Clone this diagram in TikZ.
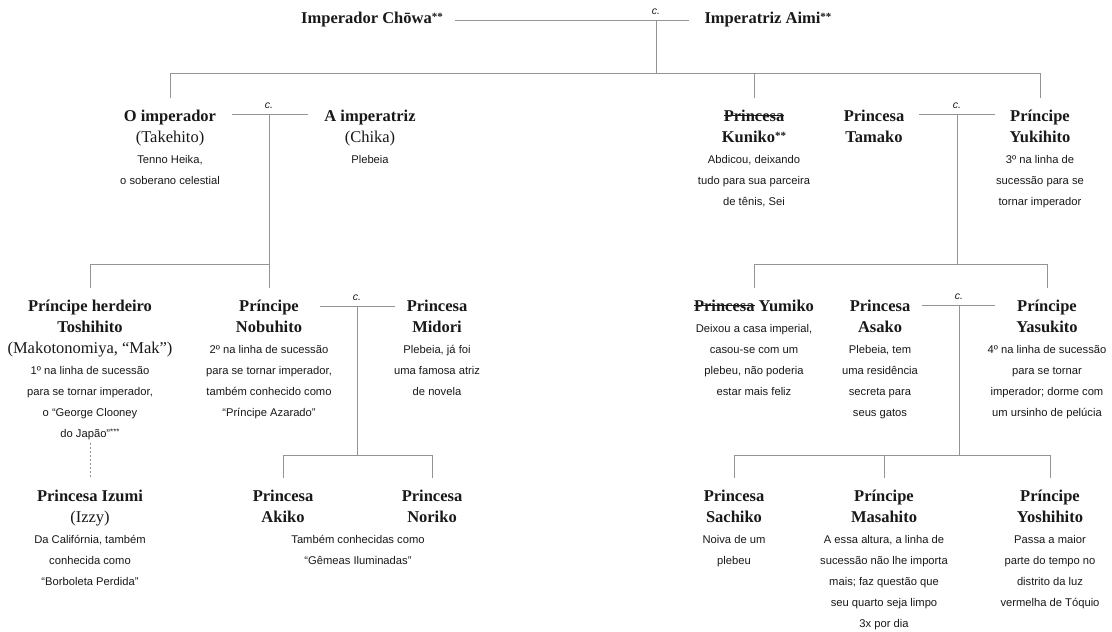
\documentclass[tikz,border=0pt]{standalone}
\usepackage{fontspec}
\setmainfont{Liberation Serif}
\setsansfont{Liberation Sans}
\newsavebox\strkbox
\newcommand\strk[1]{\sbox\strkbox{#1}\rlap{\rule[0.3em]{\wd\strkbox}{0.9pt}}\usebox\strkbox}
\newcommand\strt{\rule{0pt}{23pt}}
\newcommand\dscf{\sffamily\mdseries\fontsize{11.2}{21}\selectfont}
\newcommand\surf{\mdseries\fontsize{16.5}{21}\selectfont}
\newcommand\stars[1]{{\fontsize{11}{21}\selectfont\raisebox{3pt}{#1}}}
\newcommand\dstars[1]{{\fontsize{8}{21}\selectfont\raisebox{3pt}{#1}}}
\tikzset{
  person/.style={text width=230pt, align=flush center, inner sep=0pt, anchor=north,
    font=\fontsize{16.5}{21}\selectfont\bfseries, text=black!90},
  conn/.style={draw=black!42, line width=1pt},
  cee/.style={font=\sffamily\itshape\fontsize{10.5}{11}\selectfont, inner sep=0pt, anchor=base, text=black!90}
}
\begin{document}
\begin{tikzpicture}[x=1pt,y=-1pt]
\useasboundingbox[fill=white] (0,0) rectangle (1112,632);

% ---- row 1
\node[person] (chowa) at (372,0) {\strt Imperador Chōwa\stars{**}};
\node[person] (aimi) at (768,0) {\strt Imperatriz Aimi\stars{**}};
\coordinate (m1a) at (455,20);
\coordinate (m1) at (656,20);
\coordinate (m1b) at (689,20);
\coordinate (b1) at (656,73);
\draw[conn] (m1a) -- (m1b);
\draw[conn] (m1) -- (b1);
\node[cee] at ([yshift=6pt]m1) {c.};

% ---- row 2 (baseline 121)
\node[person] (imperador) at (170,98) {\strt O imperador\\ \surf (Takehito)\\ \dscf Tenno Heika,\\ o soberano celestial};
\node[person] (imperatriz) at (370,98) {\strt A imperatriz\\ \surf (Chika)\\ \dscf Plebeia};
\node[person] (kuniko) at (754,98) {\strt \strk{Princesa}\\ Kuniko\stars{**}\\ \dscf Abdicou, deixando\\ tudo para sua parceira\\ de tênis, Sei};
\node[person] (tamako) at (874,98) {\strt Princesa\\ Tamako};
\node[person] (yukihito) at (1040,98) {\strt Príncipe\\ Yukihito\\ \dscf 3º na linha de\\ sucessão para se\\ tornar imperador};

\draw[conn] (imperador.north) |- (b1);
\draw[conn] (yukihito.north) |- (b1);
\draw[conn] (kuniko.north) -- (kuniko.north |- b1);

\coordinate (m2La) at (232,114);
\coordinate (m2L) at (269,114);
\coordinate (m2Lb) at (308,114);
\coordinate (b2L) at (269,264);
\draw[conn] (m2La) -- (m2Lb);
\node[cee] at ([yshift=6pt]m2L) {c.};

\coordinate (m2Ra) at (919,114);
\coordinate (m2R) at (957,114);
\coordinate (m2Rb) at (995,114);
\coordinate (b2R) at (957,264);
\draw[conn] (m2Ra) -- (m2Rb);
\draw[conn] (m2R) -- (b2R);
\node[cee] at ([yshift=6pt]m2R) {c.};

% ---- row 3 (baseline 311)
\node[person] (toshihito) at (90,288) {\strt Príncipe herdeiro\\ Toshihito\\ \surf (Makotonomiya, “Mak”)\\ \dscf 1º na linha de sucessão\\ para se tornar imperador,\\ o “George Clooney\\ do Japão”\dstars{***}};
\node[person] (nobuhito) at (269,288) {\strt Príncipe\\ Nobuhito\\ \dscf 2º na linha de sucessão\\ para se tornar imperador,\\ também conhecido como\\ “Príncipe Azarado”};
\node[person] (midori) at (437,288) {\strt Princesa\\ Midori\\ \dscf Plebeia, já foi\\ uma famosa atriz\\ de novela};
\node[person] (yumiko) at (754,288) {\strt \strk{Princesa} Yumiko\\ \dscf Deixou a casa imperial,\\ casou-se com um\\ plebeu, não poderia\\ estar mais feliz};
\node[person] (asako) at (880,288) {\strt Princesa\\ Asako\\ \dscf Plebeia, tem\\ uma residência\\ secreta para\\ seus gatos};
\node[person] (yasukito) at (1047,288) {\strt Príncipe\\ Yasukito\\ \dscf 4º na linha de sucessão\\ para se tornar\\ imperador; dorme com\\ um ursinho de pelúcia};

\draw[conn] (m2L) -- (nobuhito.north);
\draw[conn] (toshihito.north) |- (b2L);
\draw[conn] (yumiko.north) |- (b2R);
\draw[conn] (yasukito.north) |- (b2R);

\coordinate (m3La) at (320,306);
\coordinate (m3L) at (357,306);
\coordinate (m3Lb) at (395,306);
\coordinate (b3L) at (357,455);
\draw[conn] (m3La) -- (m3Lb);
\draw[conn] (m3L) -- (b3L);
\node[cee] at ([yshift=6pt]m3L) {c.};

\coordinate (m3Ra) at (922,305);
\coordinate (m3R) at (959,305);
\coordinate (m3Rb) at (995,305);
\coordinate (b3R) at (959,455);
\draw[conn] (m3Ra) -- (m3Rb);
\draw[conn] (m3R) -- (b3R);
\node[cee] at ([yshift=6pt]m3R) {c.};

% ---- row 4 (baseline 501)
\node[person] (izumi) at (90,478) {\strt Princesa Izumi\\ \surf (Izzy)\\ \dscf Da Califórnia, também\\ conhecida como\\ “Borboleta Perdida”};
\node[person] (akiko) at (283,478) {\strt Princesa\\ Akiko};
\node[person] (noriko) at (432,478) {\strt Princesa\\ Noriko};
\node[person] (gemeas) at (358,520) {\strt\dscf Também conhecidas como\\ “Gêmeas Iluminadas”};
\node[person] (sachiko) at (734,478) {\strt Princesa\\ Sachiko\\ \dscf Noiva de um\\ plebeu};
\node[person] (masahito) at (884,478) {\strt Príncipe\\ Masahito\\ \dscf A essa altura, a linha de\\ sucessão não lhe importa\\ mais; faz questão que\\ seu quarto seja limpo\\ 3x por dia};
\node[person] (yoshihito) at (1050,478) {\strt Príncipe\\ Yoshihito\\ \dscf Passa a maior\\ parte do tempo no\\ distrito da luz\\ vermelha de Tóquio};

\draw[conn, dash pattern=on 2pt off 2pt, line width=0.8pt] ([yshift=-3pt]toshihito.south) -- (izumi.north);
\draw[conn] (akiko.north) |- (b3L);
\draw[conn] (noriko.north) |- (b3L);
\draw[conn] (sachiko.north) |- (b3R);
\draw[conn] (yoshihito.north) |- (b3R);
\draw[conn] (masahito.north) -- (masahito.north |- b3R);
\end{tikzpicture}
\end{document}
